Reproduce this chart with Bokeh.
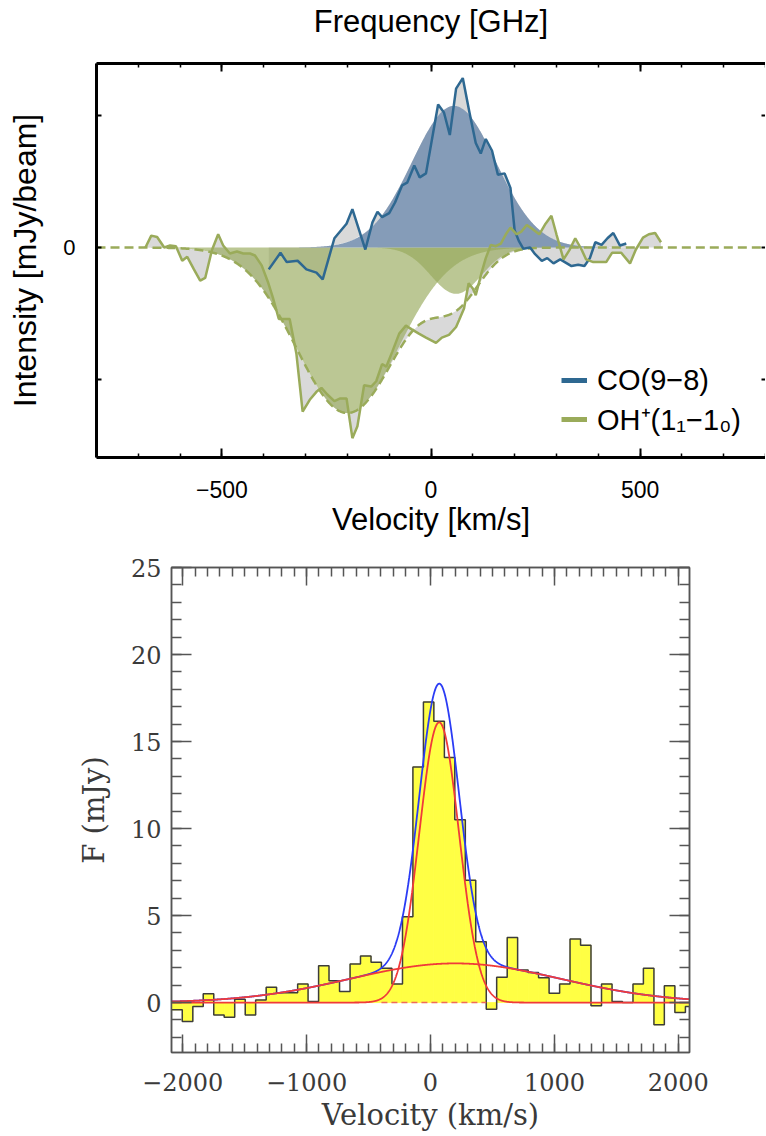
import numpy as np
from bokeh.plotting import figure
from bokeh.models import (LinearAxis, SingleIntervalTicker, FixedTicker, Range1d, Legend,
                          LegendItem, CustomLabelingPolicy)
from bokeh.layouts import column
from bokeh.embed import file_html
from bokeh.resources import INLINE

# ---------------- top panel data (CO(9-8) and OH+ spectra) ----------------
co_vel = [-388, -360, -345, -319, -298, -274, -259, -231, -202, -188, -157, -140, -128, -117,
          -100, -86, -69, -57, -40, -27, -12, 17, 31, 45, 60, 76, 92, 107, 119, 131, 146, 160,
          176, 190, 200, 210, 221, 237, 249, 265, 278, 293, 309, 320, 336, 352, 367, 380, 393,
          408, 422, 436, 452, 467]
co_int = [-0.165, -0.04, -0.11, -0.10, -0.165, -0.19, -0.24, 0.07, 0.18, 0.29, -0.015, 0.19,
          0.27, 0.23, 0.26, 0.34, 0.47, 0.49, 0.62, 0.53, 0.56, 1.08, 1.02, 0.85, 1.20, 1.28,
          1.02, 0.79, 0.71, 0.82, 0.73, 0.55, 0.56, 0.45, 0.13, 0.05, -0.01, 0.0, -0.05, -0.10,
          -0.08, -0.12, -0.09, -0.11, -0.14, -0.13, -0.14, -0.08, 0.04, 0.02, 0.07, 0.11, 0.015,
          0.03]
oh_vel = [-683, -669, -655, -638, -624, -610, -595, -583, -567, -552, -540, -524, -509, -497,
          -481, -464, -449, -433, -421, -405, -390, -378, -364, -338, -322, -307, -290, -274,
          -262, -248, -231, -217, -202, -188, -176, -160, -143, -131, -117, -107, -93, -76, -60,
          -45, -29, -12, 12, 26, 43, 60, 67, 79, 90, 100, 107, 121, 131, 143, 155, 167, 179,
          190, 205, 216, 229, 245, 259, 274, 288, 300, 317, 331, 345, 360, 371, 388, 405, 419,
          433, 455, 476, 490, 507, 521, 536, 550]
oh_int = [0.0, 0.09, 0.08, 0.0, 0.015, 0.01, -0.10, -0.07, -0.165, -0.25, -0.23, -0.02, 0.10,
          0.015, -0.045, -0.03, -0.045, -0.045, -0.06, -0.135, -0.26, -0.38, -0.54, -0.54, -0.80,
          -1.24, -1.15, -1.09, -1.06, -1.11, -1.16, -1.14, -1.14, -1.44, -1.35, -1.04, -1.05,
          -1.01, -0.88, -0.90, -0.79, -0.65, -0.59, -0.62, -0.65, -0.68, -0.72, -0.68, -0.66,
          -0.60, -0.55, -0.46, -0.27, -0.31, -0.36, -0.19, -0.08, 0.02, 0.01, 0.03, 0.10, 0.15,
          0.10, 0.12, 0.17, 0.135, 0.10, 0.18, 0.24, 0.10, -0.09, -0.02, 0.07, -0.015, -0.09,
          -0.11, -0.11, -0.11, -0.04, -0.04, -0.12, -0.015, 0.075, 0.10, 0.11, 0.04]
# gaussian fits: amplitude, centre (km/s), sigma (km/s)
co_fit = [1.07, 55.0, 100.0]
oh_fit_main = [-1.25, -200.0, 122.0]
oh_fit_second = [-0.35, 60.0, 60.0]
top_x_range = [-800, 800]
top_y_range = [-1.586, 1.39]
top_yticks = [-1, 0, 1]

# ---------------- bottom panel data (histogram spectrum) ----------------
hist_edges = [-2088, -2003, -1918, -1834, -1749, -1665, -1580, -1495, -1411, -1326, -1242,
              -1157, -1072, -988, -903, -819, -734, -649, -565, -480, -396, -311, -226, -142,
              -57, 27, 112, 196, 281, 365, 450, 534, 619, 703, 788, 872, 957, 1042, 1126, 1211,
              1295, 1380, 1465, 1549, 1634, 1718, 1803, 1887, 1972, 2057, 2141]
hist_flux = [-0.42, -1.09, -0.23, 0.50, -0.71, -0.84, 0.19, -0.71, 0.15, 0.88,
             0.57, 0.57, 1.07, 0.06, 2.12, 1.26, 0.63, 2.22, 2.67, 2.31,
             1.97, 1.07, 4.93, 13.54, 17.27, 16.16, 14.08, 10.5, 7.03, 3.5,
             -0.38, 1.45, 3.74, 1.87, 1.72, 1.43, 0.53, 1.07, 3.65, 3.3,
             -0.19, 1.07, 0.06, 0.0, 1.07, 1.97, -1.28, 0.96, -0.57, -0.23]
narrow_fit = [16.1, 70.0, 160.0]
broad_fit = [2.25, 200.0, 850.0]
line_window = [-396, 450]
bot_x_range = [-2090, 2090]
bot_y_range = [-2.87, 25]


def gauss(x, p):
    x = np.asarray(x, dtype=float)
    return p[0] * np.exp(-0.5 * ((x - p[1]) / p[2]) ** 2)


def no_labels():
    return CustomLabelingPolicy(code="""
for (const i of Array.from(indices)) { indices.unset(i) }
return indices
""")


SANS = "Liberation Sans"
SERIF = "DejaVu Serif"

# ======================= TOP PANEL =======================
p1 = figure(width=765, height=545, x_range=Range1d(*top_x_range), y_range=Range1d(*top_y_range),
            output_backend="svg", toolbar_location=None, frame_align=False,
            min_border_left=96, min_border_right=0, min_border_top=61, min_border_bottom=88)
p1.xgrid.visible = False
p1.ygrid.visible = False
p1.outline_line_color = None

BLUE = "#2e6891"
GREEN = "#9aab5a"
GRAY = "#d9d9d9"

vg = np.linspace(top_x_range[0], top_x_range[1], 1601)
co_model_grid = gauss(vg, co_fit)
oh_main_grid = gauss(vg, oh_fit_main)
oh_sec_grid = gauss(vg, oh_fit_second)
oh_total_grid = oh_main_grid + oh_sec_grid

# gray residual fills (data vs model)
p1.varea(x=co_vel, y1=co_int, y2=gauss(co_vel, co_fit), fill_color=GRAY)
p1.varea(x=oh_vel, y1=oh_int, y2=gauss(oh_vel, oh_fit_main) + gauss(oh_vel, oh_fit_second),
         fill_color=GRAY)
# model component fills
p1.varea(x=vg, y1=0, y2=oh_main_grid, fill_color="#96a95a", fill_alpha=0.65)
p1.varea(x=vg, y1=0, y2=oh_sec_grid, fill_color="#96a95a", fill_alpha=0.65)
p1.varea(x=vg, y1=0, y2=co_model_grid, fill_color="#7891b0", fill_alpha=0.9)
# total OH+ model (dashed)
p1.line(x=vg, y=oh_total_grid, line_color=GREEN, line_width=2.5, line_dash="9 5")
# data lines
co_line = p1.line(x=co_vel, y=co_int, line_color=BLUE, line_width=2.5)
oh_line = p1.line(x=oh_vel, y=oh_int, line_color=GREEN, line_width=2.5)

# legend swatch renderers (single point: nothing drawn in the plot, thick swatch in legend)
leg_co = p1.line(x=co_vel[:1], y=co_int[:1], line_color=BLUE, line_width=5)
leg_oh = p1.line(x=oh_vel[:1], y=oh_int[:1], line_color=GREEN, line_width=5)
legend = Legend(items=[LegendItem(label="CO(9\u22128)", renderers=[leg_co]),
                       LegendItem(label="OH\u207a(1\u2081\u22121\u2080)", renderers=[leg_oh])],
                location=(465, 19), border_line_color=None, background_fill_alpha=0,
                padding=0, margin=0, spacing=0, glyph_width=26, glyph_height=38,
                label_height=38, label_standoff=10, label_text_font=SANS,
                label_text_font_size="29px", label_text_color="black")
p1.add_layout(legend, "center")

xa = p1.xaxis[0]
xa.ticker = SingleIntervalTicker(interval=500, num_minor_ticks=5)
xa.major_label_overrides = {-500: "\u2212500"}
xa.axis_label = "Velocity [km/s]"
xa.axis_line_width = 3
xa.axis_line_color = "black"
xa.major_tick_in = 9
xa.major_tick_out = 0
xa.minor_tick_in = 4
xa.minor_tick_out = 0
xa.major_tick_line_width = 2
xa.minor_tick_line_width = 1.5
xa.major_label_text_font = SANS
xa.major_label_text_font_size = "23px"
xa.major_label_text_color = "black"
xa.major_label_standoff = 23
xa.axis_label_text_font = SANS
xa.axis_label_text_font_size = "31px"
xa.axis_label_text_font_style = "normal"
xa.axis_label_text_color = "black"
xa.axis_label_standoff = 1

ya = p1.yaxis[0]
ya.ticker = FixedTicker(ticks=[0], minor_ticks=[-1, 1])
ya.axis_label = "Intensity [mJy/beam]"
ya.axis_line_width = 3
ya.axis_line_color = "black"
ya.major_tick_in = 5
ya.major_tick_out = 0
ya.minor_tick_in = 5
ya.minor_tick_out = 0
ya.major_tick_line_width = 2
ya.minor_tick_line_width = 2
ya.major_label_text_font = SANS
ya.major_label_text_font_size = "22px"
ya.major_label_text_color = "black"
ya.major_label_standoff = 21
ya.axis_label_text_font = SANS
ya.axis_label_text_font_size = "32px"
ya.axis_label_text_font_style = "normal"
ya.axis_label_text_color = "black"
ya.axis_label_standoff = 17

ta = LinearAxis(ticker=SingleIntervalTicker(interval=500, num_minor_ticks=5),
                axis_label="Frequency [GHz]", major_label_policy=no_labels(),
                major_label_standoff=0, axis_line_width=3, axis_line_color="black",
                major_tick_in=8, major_tick_out=0, minor_tick_in=4, minor_tick_out=0,
                major_tick_line_width=2, minor_tick_line_width=1.5,
                axis_label_text_font=SANS, axis_label_text_font_size="31px",
                axis_label_text_font_style="normal", axis_label_text_color="black",
                axis_label_standoff=14)
p1.add_layout(ta, "above")

ra = LinearAxis(ticker=FixedTicker(ticks=[], minor_ticks=top_yticks),
                major_label_standoff=0, axis_line_alpha=0, major_tick_in=4, major_tick_out=0,
                minor_tick_in=4, minor_tick_out=0, minor_tick_line_width=2)
p1.add_layout(ra, "right")

# ======================= BOTTOM PANEL =======================
AX = "#555555"
TXT = "#3a3a3a"
YEL = "#ffff44"
p2 = figure(width=765, height=589, x_range=Range1d(*bot_x_range), y_range=Range1d(*bot_y_range),
            output_backend="svg", toolbar_location=None, frame_align=False,
            min_border_left=171, min_border_right=76, min_border_top=22, min_border_bottom=82)
p2.xgrid.visible = False
p2.ygrid.visible = False
p2.outline_line_color = AX
p2.outline_line_width = 1.5

p2.quad(left=hist_edges[:-1], right=hist_edges[1:], bottom=0, top=hist_flux,
        fill_color=YEL, line_color=YEL, line_width=0.8)
p2.step(x=hist_edges, y=hist_flux + [hist_flux[-1]], mode="after",
        line_color="#3c3c3c", line_width=1.5)

xg = np.linspace(bot_x_range[0], bot_x_range[1], 2001)
p2.line(x=xg, y=gauss(xg, narrow_fit) + gauss(xg, broad_fit), line_color="#2b3cf5", line_width=1.8)
p2.line(x=xg, y=gauss(xg, narrow_fit), line_color="#f03a3a", line_width=1.8)
p2.line(x=xg, y=gauss(xg, broad_fit), line_color="#f03a3a", line_width=1.8)
p2.line(x=line_window, y=[0, 0], line_color="#f06a5a", line_width=1.5, line_dash="6 4")

bx = p2.xaxis[0]
bx.ticker = SingleIntervalTicker(interval=1000, num_minor_ticks=10)
bx.major_label_overrides = {-2000: "\u22122000", -1000: "\u22121000"}
bx.axis_label = "Velocity (km/s)"
by = p2.yaxis[0]
by.ticker = SingleIntervalTicker(interval=5, num_minor_ticks=5)
by.axis_label = "F (mJy)"

for ax, maj in ((bx, 18), (by, 20)):
    ax.axis_line_color = AX
    ax.axis_line_width = 1.5
    ax.major_tick_line_color = AX
    ax.minor_tick_line_color = AX
    ax.major_tick_line_width = 1.5
    ax.minor_tick_line_width = 1.5
    ax.major_tick_in = maj
    ax.major_tick_out = 0
    ax.minor_tick_in = maj // 2
    ax.minor_tick_out = 0
    ax.major_label_text_font = SERIF
    ax.major_label_text_font_size = "24px"
    ax.major_label_text_color = TXT
    ax.axis_label_text_font = SERIF
    ax.axis_label_text_font_size = "29px"
    ax.axis_label_text_font_style = "normal"
    ax.axis_label_text_color = TXT
bx.major_label_standoff = 20
bx.axis_label_standoff = 4
by.major_label_standoff = 10
by.axis_label_standoff = 17

for loc, tk, maj in (("above", SingleIntervalTicker(interval=1000, num_minor_ticks=10), 18),
                     ("right", SingleIntervalTicker(interval=5, num_minor_ticks=5), 20)):
    ax = LinearAxis(ticker=tk, major_label_policy=no_labels(), major_label_standoff=0,
                    axis_line_color=AX, axis_line_width=1.5,
                    major_tick_line_color=AX, minor_tick_line_color=AX,
                    major_tick_line_width=1.5, minor_tick_line_width=1.5,
                    major_tick_in=maj, major_tick_out=0, minor_tick_in=maj // 2, minor_tick_out=0)
    p2.add_layout(ax, loc)

layout = column(p1, p2, spacing=0)
open("out.html", "w").write(file_html(layout, INLINE))
